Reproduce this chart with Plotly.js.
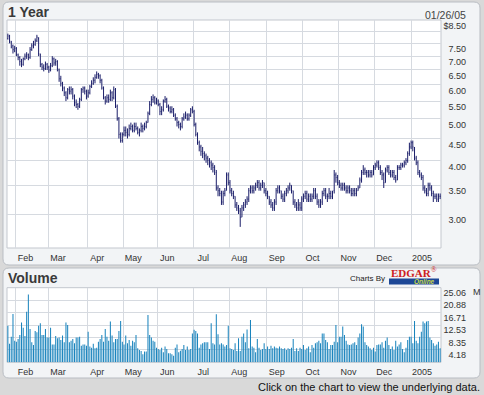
<!DOCTYPE html>
<html><head><meta charset="utf-8">
<script src="https://cdn.plot.ly/plotly-3.0.1.min.js"></script>
<style>html,body{margin:0;padding:0;background:#d9d9d9;}#chart{width:484px;height:395px;}</style>
</head><body><div id="chart"></div>
<script>
// ---- data ----
const startDate = '2004-01-26', endDate = '2005-01-26';
const holidays = ['2004-02-16','2004-04-09','2004-05-31','2004-06-11','2004-07-05','2004-09-06','2004-11-25','2004-12-24','2005-01-17'];
const monthLabels = ['Feb','Mar','Apr','May','Jun','Jul','Aug','Sep','Oct','Nov','Dec','2005'];
const priceTickVals = [3,3.5,4,4.5,5,5.5,6,6.5,7,7.5,8.5];
const priceTickText = ['3.00','3.50','4.00','4.50','5.00','5.50','6.00','6.50','7.00','7.50','$8.50'];
const priceExtraGrid = [8];
const volTickVals = [4.177,8.353,12.53,16.707,20.883,25.06];
const volTickText = ['4.18','8.35','12.53','16.71','20.88','25.06'];

const close = [
7.80,7.60,7.35,7.25,7.30,7.05,6.95,6.80,6.75,6.90,
7.00,7.05,6.95,7.25,7.40,7.45,7.60,7.75,7.10,6.70,
6.60,6.55,6.70,6.60,6.50,6.65,6.90,6.75,6.80,6.55,
6.20,6.05,5.90,5.75,5.60,5.85,5.80,5.85,5.65,5.45,
5.40,5.35,5.55,5.85,5.90,5.80,5.65,5.75,5.95,6.05,
6.15,6.25,6.35,6.30,6.15,5.90,5.60,5.50,5.60,5.55,
5.75,5.60,5.85,5.35,5.00,4.60,4.45,4.60,4.70,4.65,
4.60,4.75,4.80,4.70,4.80,4.75,4.65,4.70,4.80,4.75,
4.80,4.90,5.15,5.40,5.55,5.60,5.45,5.50,5.40,5.20,
5.25,5.50,5.55,5.35,5.30,5.20,5.25,5.10,5.00,4.90,
4.85,4.80,5.00,5.05,5.10,5.00,5.10,5.25,5.30,4.85,
4.60,4.40,4.30,4.20,4.15,4.10,4.05,4.00,3.95,3.90,
3.85,3.80,3.45,3.40,3.35,3.20,3.35,3.40,3.70,3.55,
3.40,3.35,3.30,3.15,3.10,3.05,2.95,3.10,3.15,3.20,
3.25,3.40,3.45,3.40,3.45,3.50,3.55,3.45,3.50,3.55,
3.40,3.35,3.30,3.20,3.15,3.10,3.20,3.40,3.45,3.40,
3.30,3.25,3.35,3.40,3.45,3.50,3.40,3.20,3.15,3.10,
3.15,3.10,3.25,3.30,3.35,3.25,3.30,3.25,3.30,3.40,
3.30,3.20,3.15,3.20,3.35,3.40,3.30,3.30,3.35,3.30,
3.35,3.70,3.65,3.55,3.50,3.45,3.50,3.45,3.40,3.45,
3.40,3.35,3.40,3.35,3.40,3.45,3.60,3.75,3.80,3.75,
3.75,3.70,3.75,3.70,3.85,3.90,3.95,3.85,3.75,3.70,
3.55,3.80,3.85,3.75,3.70,3.75,3.65,3.60,3.85,3.85,
3.90,3.90,3.95,4.00,4.15,4.30,4.40,4.30,4.05,3.95,
3.75,3.70,3.65,3.45,3.40,3.35,3.50,3.45,3.35,3.30,
3.30,3.25,3.30,3.30];
const open = [
7.70,7.80,7.55,7.40,7.20,7.30,7.05,6.95,6.85,6.70,
6.90,7.00,7.05,6.95,7.25,7.40,7.45,7.60,7.70,7.05,
6.70,6.60,6.55,6.70,6.60,6.50,6.65,6.90,6.75,6.80,
6.50,6.20,6.05,5.90,5.75,5.60,5.85,5.80,5.85,5.65,
5.45,5.40,5.35,5.55,5.85,5.90,5.80,5.65,5.75,5.95,
6.05,6.15,6.25,6.35,6.30,6.15,5.90,5.60,5.50,5.60,
5.55,5.75,5.60,5.85,5.35,5.00,4.60,4.45,4.60,4.70,
4.65,4.60,4.75,4.80,4.70,4.80,4.75,4.65,4.70,4.80,
4.75,4.80,4.90,5.15,5.40,5.55,5.60,5.45,5.50,5.40,
5.20,5.25,5.50,5.55,5.35,5.30,5.20,5.25,5.10,5.00,
4.90,4.85,4.80,5.00,5.05,5.10,5.00,5.10,5.25,5.20,
4.85,4.60,4.40,4.30,4.20,4.15,4.10,4.05,4.00,3.95,
3.90,3.85,3.75,3.45,3.40,3.35,3.20,3.35,3.45,3.70,
3.55,3.40,3.35,3.30,3.15,3.10,3.05,2.95,3.10,3.15,
3.20,3.25,3.40,3.45,3.40,3.45,3.50,3.55,3.45,3.50,
3.55,3.40,3.35,3.30,3.20,3.15,3.10,3.20,3.40,3.45,
3.40,3.30,3.25,3.35,3.40,3.45,3.50,3.40,3.20,3.15,
3.10,3.15,3.10,3.25,3.30,3.35,3.25,3.30,3.25,3.30,
3.40,3.30,3.20,3.15,3.20,3.35,3.40,3.30,3.30,3.35,
3.30,3.40,3.70,3.65,3.55,3.50,3.45,3.50,3.45,3.40,
3.45,3.40,3.35,3.40,3.35,3.40,3.45,3.60,3.75,3.80,
3.75,3.75,3.70,3.75,3.70,3.85,3.90,3.95,3.85,3.75,
3.70,3.55,3.80,3.85,3.75,3.70,3.75,3.65,3.60,3.85,
3.85,3.90,3.90,3.95,4.00,4.15,4.30,4.40,4.25,4.05,
3.95,3.75,3.70,3.65,3.45,3.40,3.35,3.50,3.45,3.35,
3.30,3.30,3.25,3.30];
const high = [
7.90,7.85,7.60,7.45,7.40,7.35,7.10,7.00,6.90,6.95,
7.10,7.15,7.10,7.35,7.50,7.60,7.70,7.85,7.75,7.10,
6.75,6.70,6.80,6.75,6.65,6.75,7.00,6.95,6.90,6.85,
6.55,6.30,6.10,5.95,5.80,5.90,5.95,5.95,5.90,5.70,
5.55,5.45,5.60,5.90,5.95,5.95,5.85,5.85,6.00,6.15,
6.25,6.35,6.45,6.40,6.35,6.20,5.95,5.65,5.70,5.70,
5.85,5.80,5.95,5.90,5.40,5.05,4.65,4.65,4.80,4.80,
4.75,4.85,4.90,4.85,4.90,4.90,4.80,4.75,4.90,4.85,
4.90,4.95,5.20,5.50,5.65,5.70,5.65,5.60,5.55,5.45,
5.35,5.55,5.65,5.60,5.40,5.35,5.35,5.30,5.15,5.05,
4.95,4.90,5.05,5.15,5.20,5.15,5.15,5.30,5.35,5.25,
4.90,4.65,4.45,4.35,4.30,4.20,4.15,4.10,4.05,4.00,
3.95,3.90,3.80,3.50,3.45,3.40,3.40,3.45,3.75,3.75,
3.60,3.45,3.40,3.30,3.20,3.15,3.10,3.15,3.20,3.25,
3.30,3.45,3.50,3.50,3.50,3.55,3.60,3.60,3.55,3.60,
3.55,3.45,3.40,3.30,3.25,3.20,3.25,3.45,3.50,3.50,
3.40,3.35,3.40,3.45,3.50,3.55,3.50,3.40,3.25,3.20,
3.25,3.20,3.30,3.35,3.40,3.40,3.35,3.35,3.35,3.45,
3.45,3.35,3.25,3.25,3.40,3.45,3.45,3.35,3.45,3.40,
3.40,3.80,3.75,3.70,3.60,3.55,3.55,3.55,3.50,3.50,
3.50,3.45,3.45,3.45,3.45,3.50,3.65,3.80,3.90,3.85,
3.80,3.80,3.80,3.80,3.90,3.95,4.00,4.00,3.90,3.80,
3.75,3.85,3.90,3.90,3.80,3.80,3.80,3.70,3.90,3.90,
3.95,3.95,4.00,4.05,4.20,4.40,4.45,4.45,4.30,4.10,
4.00,3.80,3.75,3.70,3.50,3.45,3.55,3.55,3.50,3.40,
3.35,3.35,3.35,3.35];
const low = [
7.65,7.50,7.30,7.10,7.15,7.00,6.85,6.65,6.60,6.65,
6.85,6.90,6.85,6.90,7.20,7.30,7.40,7.55,7.00,6.60,
6.50,6.45,6.50,6.50,6.40,6.45,6.60,6.65,6.65,6.45,
6.10,5.95,5.80,5.65,5.50,5.55,5.70,5.70,5.55,5.35,
5.30,5.25,5.30,5.50,5.75,5.70,5.55,5.60,5.70,5.90,
6.00,6.05,6.20,6.20,6.05,5.85,5.55,5.40,5.45,5.45,
5.50,5.50,5.55,5.30,4.95,4.50,4.40,4.40,4.55,4.55,
4.50,4.55,4.70,4.65,4.65,4.70,4.60,4.55,4.65,4.65,
4.70,4.75,4.90,5.10,5.35,5.45,5.40,5.40,5.35,5.10,
5.10,5.20,5.45,5.30,5.20,5.15,5.15,5.05,4.95,4.80,
4.75,4.70,4.75,4.95,5.00,4.95,4.95,5.05,5.15,4.80,
4.55,4.35,4.20,4.10,4.05,4.00,3.95,3.90,3.85,3.80,
3.75,3.70,3.40,3.30,3.30,3.15,3.15,3.30,3.40,3.50,
3.35,3.30,3.25,3.10,3.05,3.00,2.80,2.95,3.05,3.10,
3.15,3.20,3.35,3.35,3.35,3.40,3.45,3.40,3.40,3.45,
3.35,3.30,3.25,3.15,3.10,3.05,3.05,3.15,3.35,3.35,
3.25,3.20,3.20,3.30,3.35,3.40,3.35,3.15,3.10,3.05,
3.05,3.05,3.05,3.20,3.25,3.20,3.20,3.20,3.20,3.25,
3.25,3.15,3.10,3.10,3.15,3.30,3.25,3.20,3.25,3.25,
3.25,3.35,3.55,3.50,3.45,3.40,3.40,3.40,3.35,3.35,
3.35,3.30,3.30,3.30,3.30,3.40,3.45,3.55,3.70,3.70,
3.65,3.65,3.65,3.65,3.70,3.80,3.85,3.80,3.70,3.60,
3.45,3.55,3.75,3.70,3.65,3.65,3.60,3.55,3.60,3.80,
3.80,3.85,3.85,3.90,3.95,4.10,4.25,4.20,4.00,3.90,
3.70,3.65,3.60,3.40,3.35,3.30,3.30,3.40,3.30,3.20,
3.25,3.20,3.20,3.25];
// volume, millions of shares
const volume = [
12.3,6.2,8.6,16.2,7.2,6.9,7.8,9.2,13.4,11.6,
8.8,17.0,22.8,11.2,6.7,5.8,10.5,10.1,12.3,13.1,
9.2,9.2,11.2,8.3,8.3,11.6,6.0,6.0,8.8,8.1,
8.3,7.5,9.0,6.7,13.4,12.5,6.7,7.2,7.8,6.4,
8.3,8.3,8.6,5.6,6.0,6.0,5.6,10.3,5.3,4.9,
6.2,4.7,4.9,6.9,7.8,9.2,6.9,11.2,8.6,7.2,
13.7,9.0,6.7,7.8,7.8,10.5,13.9,6.9,6.0,9.0,
6.4,7.5,5.6,7.2,6.7,9.2,4.7,4.1,3.8,2.7,
3.6,3.6,15.9,9.2,8.3,7.2,6.9,4.9,4.5,4.1,
4.9,3.4,5.3,4.5,3.0,3.0,2.7,2.2,4.9,6.0,
3.4,3.9,4.5,5.8,4.1,5.3,4.1,4.5,9.7,10.9,
10.5,9.7,4.9,6.0,6.4,6.7,6.7,6.7,4.5,13.1,
6.4,6.0,16.1,9.4,6.0,6.4,6.0,5.3,5.8,12.3,
4.7,4.5,4.1,6.4,3.8,8.1,3.8,
8.6,9.7,6.7,11.0,4.7,14.2,5.3,4.9,3.4,7.8,
4.9,4.1,4.5,6.4,4.5,5.3,4.5,5.6,4.7,5.3,
4.9,4.7,5.3,4.7,4.5,4.7,4.1,4.7,4.5,4.9,
7.8,3.8,4.7,3.8,4.9,4.5,5.8,4.1,4.7,5.3,
3.4,5.8,4.9,6.4,6.7,7.2,6.4,9.7,9.7,7.5,
6.7,4.5,5.8,5.8,6.9,12.5,6.7,8.6,8.6,12.0,
9.2,7.2,6.0,5.8,6.0,6.4,6.7,5.8,8.3,9.7,
12.8,12.0,6.7,5.8,5.3,4.7,4.1,4.9,3.6,5.8,
6.0,6.0,6.7,4.9,7.2,8.3,5.8,4.5,5.3,4.1,
7.2,5.3,6.0,6.7,4.5,3.4,4.9,7.5,8.6,8.6,
6.4,13.9,7.2,6.4,8.6,10.3,13.7,13.1,13.7,13.9,
8.3,7.5,6.4,5.6,6.0,6.9,4.7];

// ---- trading-day calendar ----
const dates = [];
(function(){
  let d = new Date(startDate + 'T00:00:00Z');
  const end = new Date(endDate + 'T00:00:00Z');
  while (d <= end) {
    const s = d.toISOString().slice(0,10);
    const wd = d.getUTCDay();
    if (wd !== 0 && wd !== 6 && holidays.indexOf(s) < 0) dates.push(s);
    d = new Date(d.getTime() + 86400000);
  }
})();
const n = Math.min(dates.length, close.length);
const idx = []; for (let i = 0; i < n; i++) idx.push(i);
const monthTickVals = [];
for (let i = 1; i < n; i++) if (dates[i].slice(5,7) !== dates[i-1].slice(5,7)) monthTickVals.push(i - 0.5);

const W = 484, H = 395;
const px = v => v / W, py = v => 1 - v / H;
const navy = '#1c1f6a';
const grid = '#d6dae0';
const tickFont = {family: 'Liberation Sans, Arial, sans-serif', size: 9, color: '#333333'};

// rounded panel outline in paper coordinates
function panelPath(x0, y0, x1, y1, r) {
  const rx = r / W, ry = r / H;
  const L = px(x0), R = px(x1), T = py(y0), B = py(y1);
  return 'M' + (L + rx) + ',' + T + ' L' + (R - rx) + ',' + T + ' Q' + R + ',' + T + ' ' + R + ',' + (T - ry) +
    ' L' + R + ',' + (B + ry) + ' Q' + R + ',' + B + ' ' + (R - rx) + ',' + B +
    ' L' + (L + rx) + ',' + B + ' Q' + L + ',' + B + ' ' + L + ',' + (B + ry) +
    ' L' + L + ',' + (T - ry) + ' Q' + L + ',' + T + ' ' + (L + rx) + ',' + T + ' Z';
}

const xCommon = {
  type: 'linear', range: [-0.5, n - 0.5], domain: [px(7), px(441)],
  tickmode: 'array', tickvals: monthTickVals, ticktext: monthLabels.slice(0, monthTickVals.length),
  showgrid: true, gridcolor: grid, gridwidth: 1, zeroline: false, showline: false,
  ticks: '', ticklabelshift: 10, ticklabelstandoff: 3, tickfont: tickFont, fixedrange: true
};

const data = [
  {type: 'ohlc', x: idx, open: open.slice(0,n), high: high.slice(0,n), low: low.slice(0,n), close: close.slice(0,n),
   xaxis: 'x', yaxis: 'y', tickwidth: 0.3, hoverinfo: 'none',
   increasing: {line: {color: navy, width: 1}}, decreasing: {line: {color: navy, width: 1}}},
  {type: 'bar', x: idx, y: volume.slice(0,n), xaxis: 'x2', yaxis: 'y2', width: 0.6,
   marker: {color: '#1a84bd', line: {width: 0}}, hoverinfo: 'none'}
];

const yCommon = {
  anchor: 'free', position: px(469), side: 'right', ticklabelposition: 'inside', ticklabeloverflow: 'allow',
  tickmode: 'array', showgrid: true, gridcolor: grid, zeroline: false, showline: false, ticks: '',
  tickfont: tickFont, fixedrange: true
};

const layout = {
  width: W, height: H, margin: {l: 0, r: 0, t: 0, b: 0},
  paper_bgcolor: '#d9d9d9', plot_bgcolor: 'rgba(0,0,0,0)', showlegend: false,
  xaxis: Object.assign({}, xCommon, {anchor: 'free', position: py(248), rangeslider: {visible: false}}),
  yaxis: Object.assign({}, yCommon, {type: 'log', range: [Math.log10(2.5), Math.log10(8.5)], domain: [py(248), py(20)],
    tickvals: priceTickVals, ticktext: priceTickText, ticklabelshift: 6,
    minor: {tickmode: 'array', tickvals: priceExtraGrid, showgrid: true, gridcolor: grid, ticks: ''}}),
  xaxis2: Object.assign({}, xCommon, {anchor: 'free', position: py(362.3)}),
  yaxis2: Object.assign({}, yCommon, {range: [0, 25.06], domain: [py(362.3), py(287.7)],
    tickvals: volTickVals, ticktext: volTickText, ticklabelshift: 5}),
  shapes: [
    {type: 'path', xref: 'paper', yref: 'paper', path: panelPath(3, 2, 480, 265, 6),
     fillcolor: '#f2f4f6', line: {color: '#b9bdc3', width: 1}, layer: 'below'},
    {type: 'path', xref: 'paper', yref: 'paper', path: panelPath(3, 268, 480, 378, 6),
     fillcolor: '#f2f4f6', line: {color: '#b9bdc3', width: 1}, layer: 'below'},
    {type: 'rect', xref: 'paper', yref: 'paper', x0: px(7), x1: px(441), y0: py(248), y1: py(20),
     fillcolor: '#ffffff', line: {color: '#c3c7ce', width: 1}, layer: 'below'},
    {type: 'rect', xref: 'paper', yref: 'paper', x0: px(7), x1: px(441), y0: py(362.3), y1: py(287.7),
     fillcolor: '#ffffff', line: {color: '#c3c7ce', width: 1}, layer: 'below'},
    {type: 'rect', xref: 'paper', yref: 'paper', x0: px(389), x1: px(439), y0: py(284.5), y1: py(278.5),
     fillcolor: '#1d4796', line: {width: 0}, layer: 'above'}
  ],
  annotations: [
    {text: '<b>1 Year</b>', xref: 'paper', yref: 'paper', x: px(6), y: py(12.5), xanchor: 'left', yanchor: 'middle',
     showarrow: false, font: {family: 'Liberation Sans, Arial, sans-serif', size: 14, color: '#3a3a3a'}},
    {text: '01/26/05', xref: 'paper', yref: 'paper', x: px(468), y: py(15), xanchor: 'right', yanchor: 'middle',
     showarrow: false, font: {family: 'Liberation Sans, Arial, sans-serif', size: 10.5, color: '#444444'}},
    {text: '<b>Volume</b>', xref: 'paper', yref: 'paper', x: px(6), y: py(277.5), xanchor: 'left', yanchor: 'middle',
     showarrow: false, font: {family: 'Liberation Sans, Arial, sans-serif', size: 14, color: '#3a3a3a'}},
    {text: 'M', xref: 'paper', yref: 'paper', x: px(470.5), y: py(292.3), xanchor: 'left', yanchor: 'middle',
     showarrow: false, font: tickFont},
    {text: 'Charts By', xref: 'paper', yref: 'paper', x: px(387), y: py(278), xanchor: 'right', yanchor: 'middle',
     showarrow: false, font: {family: 'Liberation Sans, Arial, sans-serif', size: 8, color: '#222222'}},
    {text: '<b>EDGAR</b><sup>®</sup>', xref: 'paper', yref: 'paper', x: px(389), y: py(272), xanchor: 'left', yanchor: 'middle',
     showarrow: false, font: {family: 'Liberation Serif, Times New Roman, serif', size: 11, color: '#cc2020'}},
    {text: '<i><b>Online</b></i>', xref: 'paper', yref: 'paper', x: px(437), y: py(281.5), xanchor: 'right', yanchor: 'middle',
     showarrow: false, font: {family: 'Liberation Sans, Arial, sans-serif', size: 6.5, color: '#c8d84a'}},
    {text: 'Click on the chart to view the underlying data.', xref: 'paper', yref: 'paper', x: px(482), y: py(387), xanchor: 'right', yanchor: 'middle',
     showarrow: false, font: {family: 'Liberation Sans, Arial, sans-serif', size: 11, color: '#111111'}}
  ]
};

Plotly.newPlot('chart', data, layout, {displayModeBar: false, staticPlot: true});
</script>
</body></html>
